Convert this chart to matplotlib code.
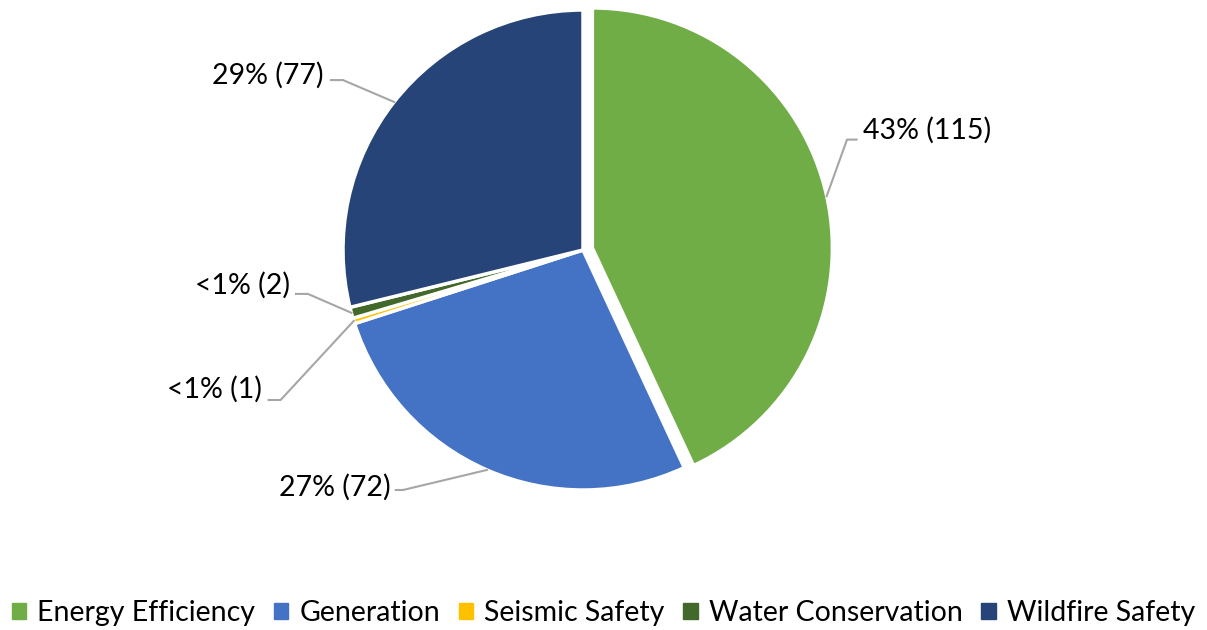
import matplotlib.pyplot as plt
import numpy as np

plt.rcParams['font.family'] = ['Lato', 'DejaVu Sans']

categories = ["Energy Efficiency", "Generation", "Seismic Safety", "Water Conservation", "Wildfire Safety"]
counts = [115, 72, 1, 2, 77]
labels = ["43% (115)", "27% (72)", "<1% (1)", "<1% (2)", "29% (77)"]
colors = ["#70AD47", "#4472C4", "#FFC000", "#43682B", "#264478"]
explode = [0.04, 0.0, 0.0, 0.0, 0.0]

# label layout: elbow point of leader line, end point, text position, alignment
label_layout = [
    ((1.10, 0.46), (1.14, 0.46), (1.165, 0.50), "left"),
    ((-0.75, -1.00), (-0.78, -1.00), (-0.80, -0.99), "right"),
    ((-1.26, -0.625), (-1.31, -0.625), (-1.34, -0.58), "right"),
    ((-1.146, -0.183), (-1.196, -0.183), (-1.22, -0.145), "right"),
    ((-1.00, 0.708), (-1.05, 0.708), (-1.08, 0.73), "right"),
]

fig = plt.figure(figsize=(12.07, 6.3), dpi=100)
ax = fig.add_axes([(583 - 300) / 1207, 80 / 630, 600 / 1207, 600 / 630])
ax.set_xlim(-1.25, 1.25)
ax.set_ylim(-1.25, 1.25)
ax.set_aspect('equal')
ax.axis('off')

wedges, _ = ax.pie(counts, colors=colors, explode=explode, startangle=90,
                   counterclock=False, radius=1,
                   wedgeprops=dict(edgecolor='white', linewidth=2.5))

for w, ex, lab, (elbow, end, tpos, ha) in zip(wedges, explode, labels, label_layout):
    ang = np.deg2rad((w.theta1 + w.theta2) / 2)
    ax_pt = ((1 + ex) * np.cos(ang), (1 + ex) * np.sin(ang))
    ax.plot([ax_pt[0], elbow[0], end[0]], [ax_pt[1], elbow[1], end[1]],
            color="#A6A6A6", lw=1.5, clip_on=False)
    ax.text(tpos[0], tpos[1], lab, ha=ha, va='center', fontsize=20.5, color="#000000")

handles = [plt.Rectangle((0, 0), 1, 1, color=c) for c in colors]
fig.legend(handles, categories, loc='center', bbox_to_anchor=(0.5, 17 / 630),
           ncol=5, frameon=False, fontsize=20.5, handlelength=0.5, handleheight=0.5,
           handletextpad=0.4, columnspacing=0.65, borderaxespad=0, borderpad=0)

fig.savefig("out.png", dpi=100)
